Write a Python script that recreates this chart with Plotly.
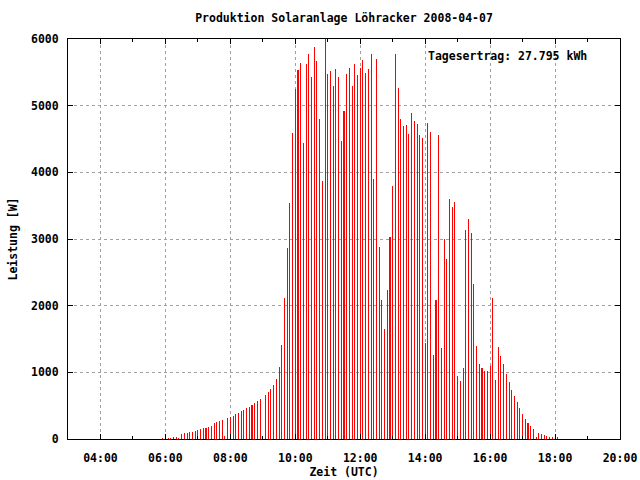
import pandas as pd
import plotly.graph_objects as go

# 5-minute samples starting 05:55 UTC on 2008-04-07
start_time = "2008-04-07 05:55"
leistung_w = [
    15, 0, 15, 15, 35, 35, 15, 80, 95, 95,
    110, 110, 125, 140, 155, 170, 170, 185, 200, 245,
    260, 275, 290, 50, 320, 335, 350, 380, 395, 425,
    440, 470, 485, 515, 545, 570, 600, 0,
    662, 706, 751, 811, 900, 1080, 1403, 2119, 2866, 3537,
    4597, 5254, 5542, 5642, 4438, 5627, 5776, 5433, 5880, 5672,
    4806, 3871, 6000, 5478, 5522, 5298, 5552, 5433,
    4468, 4915, 5482, 5572, 5288, 5632, 5453, 5572, 5691, 5497,
    5557, 5781, 3900, 5706, 2886, 2080, 1647, 2229, 3035, 3796,
    5781, 5259, 4796, 4691, 4706, 4572,
    4886, 4766, 4721, 4557, 4512, 1438, 4736, 4602, 1259, 2080,
    4557, 1363, 3005, 2706, 3602, 3483, 3557, 945, 871, 1065,
    3139, 3303, 3095, 2318, 1393, 1124,
    1065, 1020, 1020, 1095, 2109, 886, 1378, 1244, 1124, 975,
    856, 736, 647, 557, 468, 378, 303, 244, 199, 154,
    35, 95, 80, 65, 50, 35, 35, 50, 20,
]
zeit = pd.date_range(start_time, periods=len(leistung_w), freq="5min")

title_text = "Produktion Solaranlage Löhracker 2008-04-07"
ertrag_text = "Tagesertrag: 27.795 kWh"
x_title = "Zeit (UTC)"
y_title = "Leistung [W]"

FONT = "DejaVu Sans Mono"
fnt = dict(family=FONT, size=11.5, color="black", weight="bold")

fig = go.Figure()
fig.add_trace(go.Bar(
    x=zeit, y=leistung_w,
    width=3000,
    marker=dict(color="#ff0000", line=dict(width=0)),
    showlegend=False,
))

fig.update_layout(
    width=640, height=480,
    margin=dict(l=68, r=20, t=39, b=41, autoexpand=False),
    paper_bgcolor="white", plot_bgcolor="white",
    font=fnt,
    title=dict(text=title_text, x=0.5, xanchor="center", xref="paper",
               y=1 - 18 / 480, yanchor="middle", font=fnt, automargin=False),
    bargap=0,
)

fig.update_xaxes(
    type="date", automargin=False,
    range=["2008-04-07 03:00", "2008-04-07 20:00"],
    dtick=7200000, tick0="2008-04-07 00:00", tickformat="%H:%M",
    ticks="inside", ticklen=5, tickcolor="black", tickwidth=1,
    minor=dict(dtick=3600000, ticks="inside", ticklen=3, tickcolor="black", showgrid=False),
    showline=True, linecolor="black", linewidth=1, mirror="allticks",
    showgrid=True, gridcolor="#a0a0a0", griddash="dot", gridwidth=1,
    tickfont=fnt, ticklabelstandoff=8,
    title=dict(text=x_title, font=fnt, standoff=4),
    zeroline=False,
)
fig.update_yaxes(
    automargin=False,
    range=[0, 6000], dtick=1000, tickformat="d",
    ticks="inside", ticklen=5, tickcolor="black", tickwidth=1,
    showline=True, linecolor="black", linewidth=1, mirror="allticks",
    showgrid=True, gridcolor="#a0a0a0", griddash="dot", gridwidth=1,
    tickfont=fnt, ticklabelstandoff=6,
    title=dict(text=y_title, font=fnt, standoff=10),
    zeroline=False,
)

fig.add_annotation(
    text=ertrag_text, xref="paper", yref="paper",
    x=(426 - 68) / 552, y=(439 - 56) / 400,
    xanchor="left", yanchor="middle", showarrow=False, font=fnt,
)

fig.write_html("out.html", config={"displayModeBar": False})

# remove the browser's default page margin so the 640x480 figure fills the window
with open("out.html", encoding="utf-8") as f:
    html = f.read()
html = html.replace("<body>", '<body style="margin:0;padding:0;overflow:hidden">', 1)
with open("out.html", "w", encoding="utf-8") as f:
    f.write(html)
